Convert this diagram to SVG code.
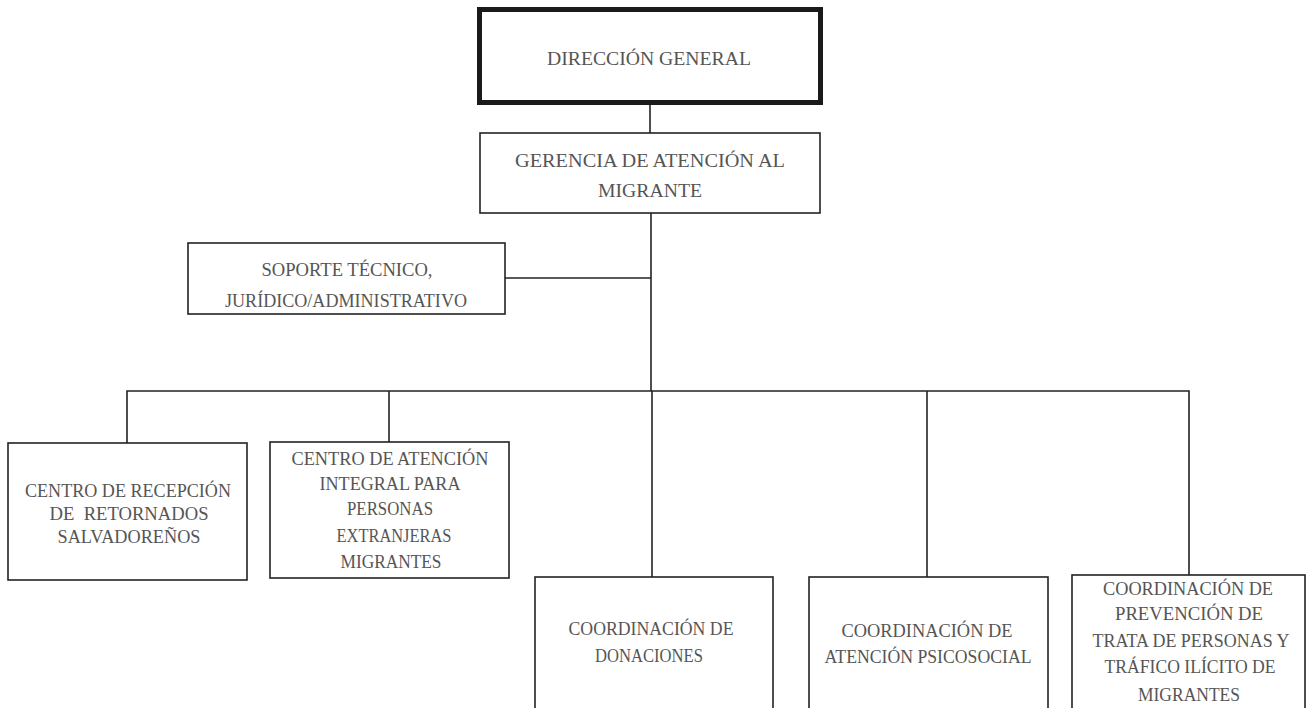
<svg xmlns="http://www.w3.org/2000/svg" width="1307" height="708" viewBox="0 0 1307 708">
<style>
.box{fill:#fff;stroke:#222;stroke-width:1.6}
.main{fill:#fff;stroke:#1a1a1a;stroke-width:5}
.t{font-family:"Liberation Serif","Times New Roman",serif;font-size:19px;fill:#555;text-anchor:middle;white-space:pre}
.ln{fill:none;stroke:#222;stroke-width:1.6}
</style>
<rect width="1307" height="708" fill="#fff"/>
<g id="connectors">
<line class="ln" x1="650" y1="105" x2="650" y2="133"/>
<line class="ln" x1="651" y1="213" x2="651" y2="391"/>
<line class="ln" x1="505" y1="278" x2="651" y2="278"/>
<polyline class="ln" points="127,443 127,391 1189,391 1189,575"/>
<line class="ln" x1="389" y1="391" x2="389" y2="442"/>
<line class="ln" x1="652" y1="391" x2="652" y2="577"/>
<line class="ln" x1="927" y1="391" x2="927" y2="577"/>
</g>
<g id="direccion">
<rect class="main" x="479.5" y="9.5" width="341" height="93"/>
<text class="t" x="649" y="65" textLength="204" lengthAdjust="spacingAndGlyphs">DIRECCIÓN GENERAL</text>
</g>
<g id="gerencia">
<rect class="box" x="480" y="133" width="340" height="80"/>
<text class="t" x="650" y="167" textLength="270" lengthAdjust="spacingAndGlyphs">GERENCIA DE ATENCIÓN AL</text>
<text class="t" x="650" y="197" textLength="104" lengthAdjust="spacingAndGlyphs">MIGRANTE</text>
</g>
<g id="soporte">
<rect class="box" x="188" y="243" width="317" height="71"/>
<text class="t" x="347" y="276" textLength="171" lengthAdjust="spacingAndGlyphs">SOPORTE TÉCNICO,</text>
<text class="t" x="346" y="307" textLength="242" lengthAdjust="spacingAndGlyphs">JURÍDICO/ADMINISTRATIVO</text>
</g>
<g id="recepcion">
<rect class="box" x="8" y="443" width="239" height="137"/>
<text class="t" x="128" y="497" textLength="206" lengthAdjust="spacingAndGlyphs">CENTRO DE RECEPCIÓN</text>
<text class="t" x="129" y="520" textLength="159" lengthAdjust="spacingAndGlyphs">DE  RETORNADOS</text>
<text class="t" x="129" y="543" textLength="143" lengthAdjust="spacingAndGlyphs">SALVADOREÑOS</text>
</g>
<g id="atencion-integral">
<rect class="box" x="270" y="442" width="239" height="136"/>
<text class="t" x="390" y="465" textLength="197" lengthAdjust="spacingAndGlyphs">CENTRO DE ATENCIÓN</text>
<text class="t" x="390" y="490" textLength="141" lengthAdjust="spacingAndGlyphs">INTEGRAL PARA</text>
<text class="t" x="390" y="515" textLength="86" lengthAdjust="spacingAndGlyphs">PERSONAS</text>
<text class="t" x="394" y="542" textLength="115" lengthAdjust="spacingAndGlyphs">EXTRANJERAS</text>
<text class="t" x="391" y="568" textLength="101" lengthAdjust="spacingAndGlyphs">MIGRANTES</text>
</g>
<g id="donaciones">
<rect class="box" x="535" y="577" width="238" height="132"/>
<text class="t" x="651" y="635" textLength="165" lengthAdjust="spacingAndGlyphs">COORDINACIÓN DE</text>
<text class="t" x="649" y="662" textLength="108" lengthAdjust="spacingAndGlyphs">DONACIONES</text>
</g>
<g id="psicosocial">
<rect class="box" x="809" y="577" width="239" height="132"/>
<text class="t" x="927" y="637" textLength="171" lengthAdjust="spacingAndGlyphs">COORDINACIÓN DE</text>
<text class="t" x="928" y="663" textLength="207" lengthAdjust="spacingAndGlyphs">ATENCIÓN PSICOSOCIAL</text>
</g>
<g id="prevencion">
<rect class="box" x="1072" y="575" width="233" height="134"/>
<text class="t" x="1188" y="595" textLength="170" lengthAdjust="spacingAndGlyphs">COORDINACIÓN DE</text>
<text class="t" x="1189" y="620" textLength="148" lengthAdjust="spacingAndGlyphs">PREVENCIÓN DE</text>
<text class="t" x="1191" y="647" textLength="197" lengthAdjust="spacingAndGlyphs">TRATA DE PERSONAS Y</text>
<text class="t" x="1190" y="673" textLength="171" lengthAdjust="spacingAndGlyphs">TRÁFICO ILÍCITO DE</text>
<text class="t" x="1189" y="701" textLength="102" lengthAdjust="spacingAndGlyphs">MIGRANTES</text>
</g>
</svg>
